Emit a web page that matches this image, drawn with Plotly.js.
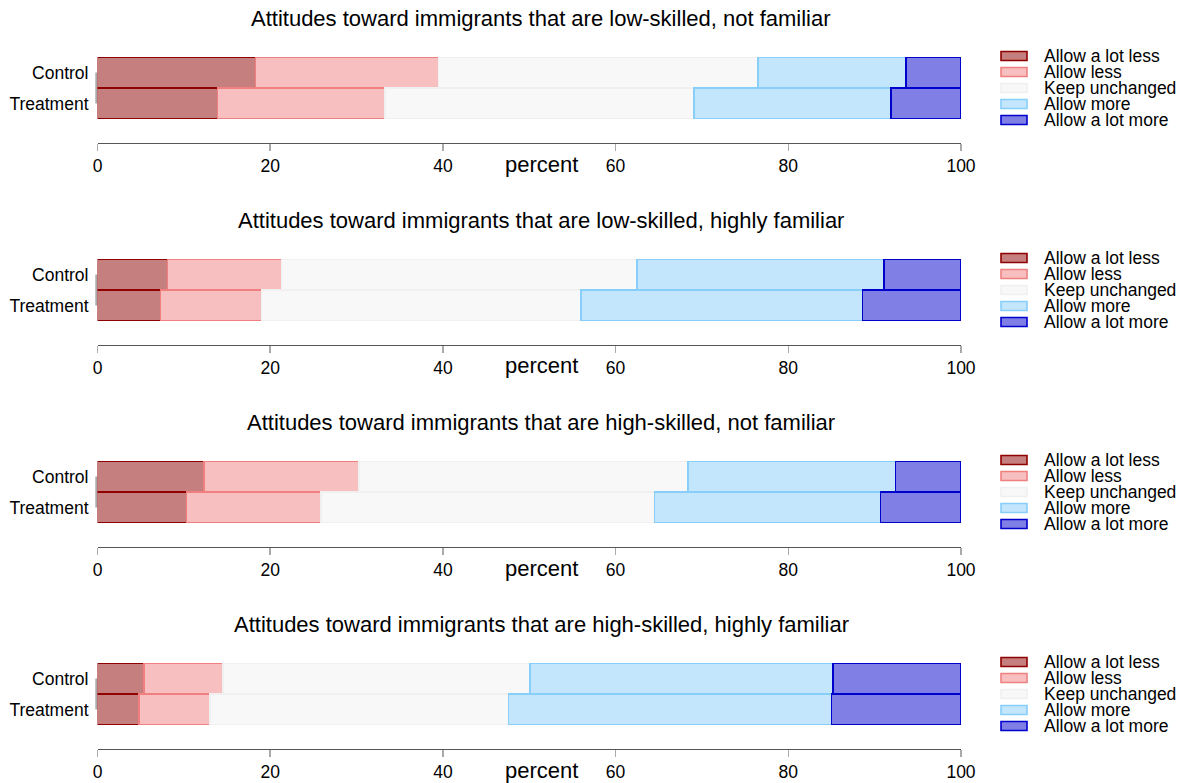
<!DOCTYPE html>
<html>
<head>
<meta charset="utf-8">
<script src="https://cdn.plot.ly/plotly-3.0.1.min.js"></script>
<style>html,body{margin:0;padding:0;background:#fff;}#chart{width:1192px;height:783px;}</style>
</head>
<body>
<div id="chart"></div>
<script>
// ---- data ----
const groups = ['Control', 'Treatment'];
const responses = ['Allow a lot less', 'Allow less', 'Keep unchanged', 'Allow more', 'Allow a lot more'];
const panelTitles = [
  'Attitudes toward immigrants that are low-skilled, not familiar',
  'Attitudes toward immigrants that are low-skilled, highly familiar',
  'Attitudes toward immigrants that are high-skilled, not familiar',
  'Attitudes toward immigrants that are high-skilled, highly familiar'
];
const xTicks = [0, 20, 40, 60, 80, 100];
const xLabel = 'percent';

// percent per response (order as in responses)
const lowNotFamControl = [18.3, 21.2, 37.0, 17.1, 6.4];
const lowNotFamTreatment = [13.9, 19.4, 35.8, 22.8, 8.1];
const lowHighFamControl = [8.1, 13.2, 41.2, 28.6, 8.9];
const lowHighFamTreatment = [7.3, 11.7, 37.0, 32.6, 11.4];
const highNotFamControl = [12.3, 18.0, 38.1, 24.0, 7.6];
const highNotFamTreatment = [10.3, 15.6, 38.6, 26.2, 9.3];
const highHighFamControl = [5.4, 9.1, 35.6, 35.1, 14.8];
const highHighFamTreatment = [4.8, 8.2, 34.6, 37.4, 15.0];

const panelData = [
  [lowNotFamControl, lowNotFamTreatment],
  [lowHighFamControl, lowHighFamTreatment],
  [highNotFamControl, highNotFamTreatment],
  [highHighFamControl, highHighFamTreatment]
];

// ---- styles ----
const fills = ['rgba(139,0,0,0.5)', 'rgba(240,128,128,0.5)', 'rgba(242,242,242,0.5)', 'rgba(135,206,250,0.5)', 'rgba(0,0,205,0.5)'];
const borders = ['rgb(145,0,0)', 'rgb(240,128,128)', 'rgb(240,240,240)', 'rgb(135,206,250)', 'rgb(0,0,205)'];
const FONT = 'Liberation Sans, Arial, Helvetica, sans-serif';
const W = 1192, H = 783;
const plotLeft = 97.5, plotRight = 961;
const panelTop = [57, 259, 461, 663];
const barsH = 62;
const px2y = p => 1 - p / H;
const px2x = p => p / W;

const traces = [];
const layout = {
  width: W, height: H,
  margin: {l: 0, r: 0, t: 0, b: 0, pad: 0},
  paper_bgcolor: '#fff', plot_bgcolor: 'rgba(0,0,0,0)',
  barmode: 'stack', bargap: 0,
  showlegend: false,
  font: {family: FONT, color: '#000', size: 17.5},
  annotations: [], shapes: []
};

panelData.forEach((pd, i) => {
  const n = i + 1;
  const xa = 'x' + (n === 1 ? '' : n), ya = 'y' + (n === 1 ? '' : n);
  const xk = 'xaxis' + (n === 1 ? '' : n), yk = 'yaxis' + (n === 1 ? '' : n);
  responses.forEach((r, k) => {
    traces.push({
      type: 'bar', orientation: 'h', name: r,
      y: groups, x: groups.map((g, gi) => pd[gi][k]),
      xaxis: xa, yaxis: ya,
      marker: {color: fills[k], line: {color: borders[k], width: 1.6}},
      hoverinfo: 'x+y+name'
    });
  });
  const top = panelTop[i];
  layout[yk] = {
    domain: [px2y(top + barsH), px2y(top)],
    anchor: xa, type: 'category',
    categoryorder: 'array', categoryarray: ['Treatment', 'Control'],
    range: [-0.5, 1.5], showgrid: false, zeroline: false, showline: false,
    ticks: '', ticklabelstandoff: 8,
    tickfont: {family: FONT, size: 17.5, color: '#000'},
    fixedrange: true
  };
  layout[xk] = {
    domain: [px2x(plotLeft), px2x(plotRight)],
    anchor: 'free', position: px2y(top + 85.5),
    range: [0, 100], tickvals: xTicks, ticktext: xTicks.map(String),
    showgrid: false, zeroline: false,
    showline: true, linecolor: '#555', linewidth: 1.5,
    ticks: 'outside', ticklen: 7, tickwidth: 1.5, tickcolor: '#aaa',
    tickfont: {family: FONT, size: 17.5, color: '#000'},
    fixedrange: true
  };
  // panel title
  layout.annotations.push({
    xref: 'paper', yref: 'paper', x: px2x(541), y: px2y(top - 38.5),
    xanchor: 'center', yanchor: 'middle', showarrow: false,
    text: panelTitles[i], font: {family: FONT, size: 22, color: '#000'}
  });
  // axis label
  layout.annotations.push({
    xref: 'paper', yref: 'paper', x: px2x(541), y: px2y(top + 107),
    xanchor: 'center', yanchor: 'middle', showarrow: false,
    text: xLabel, font: {family: FONT, size: 22, color: '#000'}
  });
  // y axis segment between group centres
  layout.shapes.push({
    type: 'line', xref: 'paper', yref: ya,
    x0: px2x(plotLeft - 1.2), x1: px2x(plotLeft - 1.2), y0: 0, y1: 1,
    line: {color: '#aaa', width: 2}, layer: 'below'
  });
  // legend
  responses.forEach((r, k) => {
    const cy = top - 1 + 16 * k;
    layout.shapes.push({
      type: 'rect', xref: 'paper', yref: 'paper',
      x0: px2x(1001), x1: px2x(1027), y0: px2y(cy + 4.5), y1: px2y(cy - 4.5),
      fillcolor: fills[k], line: {color: borders[k], width: 1.6}
    });
    layout.annotations.push({
      xref: 'paper', yref: 'paper', x: px2x(1042), y: px2y(cy),
      xanchor: 'left', yanchor: 'middle', showarrow: false,
      text: r, font: {family: FONT, size: 17.5, color: '#000'}
    });
  });
});

Plotly.newPlot('chart', traces, layout, {displayModeBar: false, staticPlot: true});
</script>
</body>
</html>
